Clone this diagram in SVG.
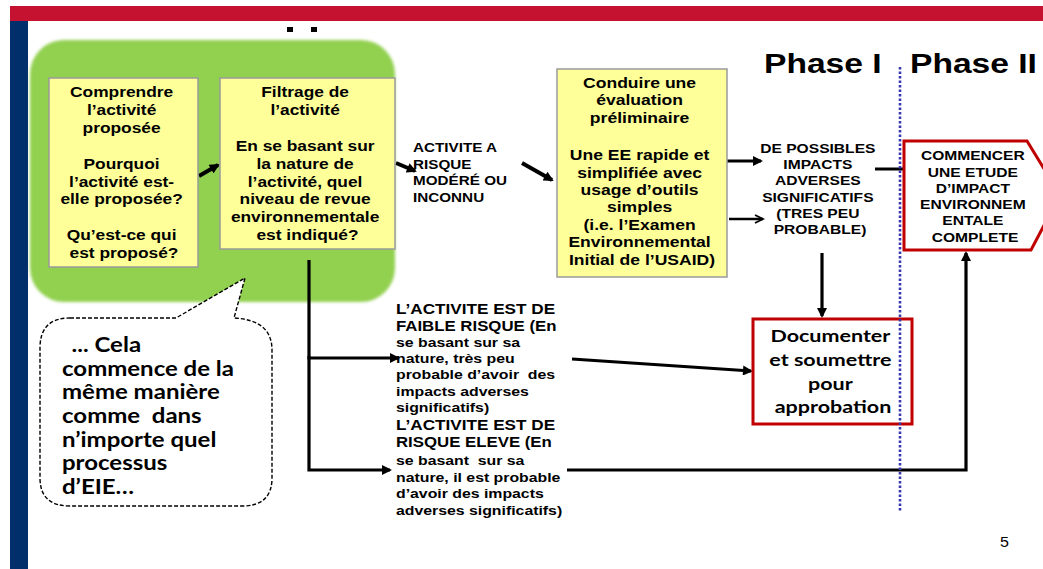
<svg xmlns="http://www.w3.org/2000/svg" width="1043" height="569" viewBox="0 0 1043 569">
<style>
.t{font-family:"Liberation Sans",Arial,sans-serif;font-weight:bold;fill:#000}
.c{text-anchor:middle}
.lato{font-family:Lato,"Open Sans",sans-serif;font-weight:bold;fill:#000}
.box{fill:#FFFF99;stroke:#9a9a9a;stroke-width:1.5}
.red{fill:#fff;stroke:#C00000;stroke-width:3}
.ln{fill:none;stroke:#000;stroke-width:3.2}
.thick{fill:none;stroke:#000;stroke-width:4}
</style>
<defs>
<marker id="ah" viewBox="0 0 10 10" refX="8" refY="5" markerWidth="12" markerHeight="10" markerUnits="userSpaceOnUse" orient="auto"><path d="M0,0 L10,5 L0,10 z" fill="#000"/></marker>
<marker id="ahopen" viewBox="0 0 10 10" refX="9" refY="5" markerWidth="11" markerHeight="10" markerUnits="userSpaceOnUse" orient="auto"><path d="M1,1 L9,5 L1,9" fill="none" stroke="#000" stroke-width="1.8"/></marker>
<filter id="soft" x="-5%" y="-5%" width="110%" height="110%"><feGaussianBlur stdDeviation="1.6"/></filter>
</defs>
<rect width="1043" height="569" fill="#fff"/>
<g id="frame">
<rect x="10" y="6" width="1033" height="15" fill="#C41230"/>
<rect x="10" y="21" width="18" height="548" fill="#002F6C"/>
<rect x="287" y="27" width="6" height="5" fill="#000"/>
<rect x="311" y="27" width="6" height="5" fill="#000"/>
</g>
<g id="green-zone">
<rect x="30" y="40" width="365" height="262" rx="34" fill="#92D050" filter="url(#soft)"/>
</g>
<g id="phases">
<text class="t" font-size="28" transform="translate(764,73) scale(1.2,1)" x="0" y="0">Phase I</text>
<text class="t" font-size="28" transform="translate(910,73) scale(1.2,1)" x="0" y="0">Phase II</text>
</g>
<g id="connectors">
<line class="thick" x1="199" y1="176" x2="218" y2="165" marker-end="url(#ah)"/>
<line class="thick" x1="396" y1="163" x2="415" y2="171" marker-end="url(#ah)"/>
<line class="thick" x1="522" y1="163" x2="552" y2="180" marker-end="url(#ah)"/>
<line class="ln" x1="727" y1="161" x2="761" y2="161" marker-end="url(#ah)"/>
<line fill="none" stroke="#000" stroke-width="2.4" x1="729" y1="219" x2="763" y2="219" marker-end="url(#ahopen)"/>
<line class="ln" x1="875" y1="169" x2="919" y2="169" marker-end="url(#ah)"/>
<line class="ln" x1="822" y1="253" x2="822" y2="316" marker-end="url(#ah)"/>
<path class="ln" d="M309,260 L309,358 L398,358" marker-end="url(#ah)"/>
<path class="ln" d="M309,356 L309,470 L390,470" marker-end="url(#ah)"/>
<line class="ln" x1="572" y1="359" x2="751" y2="371" marker-end="url(#ah)"/>
<path class="ln" d="M567,470 L966,470 L966,253" marker-end="url(#ah)"/>
</g>
<g id="comprendre">
<rect class="box" x="49" y="78" width="149" height="189"/>
<text class="t c" font-size="15.5" transform="translate(124,0) scale(1.12,1)">
<tspan x="0" y="97">Comprendre</tspan>
<tspan x="0" y="115">l’activité</tspan>
<tspan x="0" y="133">proposée</tspan>
<tspan x="0" y="169">Pourquoi</tspan>
<tspan x="0" y="187">l’activité est-</tspan>
<tspan x="0" y="204">elle proposée?</tspan>
<tspan x="0" y="240">Qu’est-ce qui</tspan>
<tspan x="0" y="258">est proposé?</tspan>
</text>
</g>
<g id="filtrage">
<rect class="box" x="220" y="78" width="175" height="171"/>
<text class="t c" font-size="15.5" transform="translate(307.5,0) scale(1.12,1)">
<tspan x="0" y="97">Filtrage de</tspan>
<tspan x="0" y="115">l’activité</tspan>
<tspan x="0" y="151">En se basant sur</tspan>
<tspan x="0" y="169">la nature de</tspan>
<tspan x="0" y="187">l’activité, quel</tspan>
<tspan x="0" y="204">niveau de revue</tspan>
<tspan x="0" y="222">environnementale</tspan>
<tspan x="0" y="240">est indiqué?</tspan>
</text>
</g>
<g id="risque-modere">
<text class="t" font-size="12.5" transform="translate(413,0) scale(1.22,1)">
<tspan x="0" y="152">ACTIVITE A</tspan>
<tspan x="0" y="169">RISQUE</tspan>
<tspan x="0" y="185">MODÉRÉ OU</tspan>
<tspan x="0" y="202">INCONNU</tspan>
</text>
</g>
<g id="evaluation">
<rect class="box" x="557" y="69" width="170" height="208"/>
<text class="t c" font-size="15" transform="translate(642,0) scale(1.17,1)">
<tspan x="0" y="88">Conduire une</tspan>
<tspan x="0" y="105">évaluation</tspan>
<tspan x="0" y="123">préliminaire</tspan>
<tspan x="0" y="160">Une EE rapide et</tspan>
<tspan x="0" y="178">simplifiée avec</tspan>
<tspan x="0" y="195">usage d’outils</tspan>
<tspan x="0" y="212">simples</tspan>
<tspan x="0" y="230">(i.e. l’Examen</tspan>
<tspan x="0" y="247">Environnemental</tspan>
<tspan x="0" y="265">Initial de l’USAID)</tspan>
</text>
</g>
<g id="impacts">
<text class="t c" font-size="13" transform="translate(820,0) scale(1.2,1)">
<tspan x="0" y="153">DE POSSIBLES</tspan>
<tspan x="0" y="169">IMPACTS</tspan>
<tspan x="0" y="185">ADVERSES</tspan>
<tspan x="0" y="202">SIGNIFICATIFS</tspan>
<tspan x="0" y="218">(TRES PEU</tspan>
<tspan x="0" y="234">PROBABLE)</tspan>
</text>
</g>
<g id="etude-complete">
<polygon class="red" points="904,141 1027,141 1060,195 1031,250 904,250"/>
<text class="t c" font-size="13" transform="translate(975,0) scale(1.2,1)">
<tspan x="0" y="160">COMMENCER</tspan>
<tspan x="0" y="177">UNE ETUDE</tspan>
<tspan x="0" y="193">D’IMPACT</tspan>
<tspan x="0" y="209">ENVIRONNEM</tspan>
<tspan x="0" y="225">ENTALE</tspan>
<tspan x="0" y="242">COMPLETE</tspan>
</text>
</g>
<g id="documenter">
<rect class="red" x="753" y="319" width="159" height="105"/>
<text class="lato c" font-size="16.8" transform="translate(833,0) scale(1.28,1)">
<tspan x="0" y="342">Documenter</tspan>
<tspan x="0" y="366">et soumettre</tspan>
<tspan x="0" y="390">pour</tspan>
<tspan x="0" y="413">approbation</tspan>
</text>
</g>
<g id="faible-risque">
<text class="t" font-size="13.2" transform="translate(396,0) scale(1.2,1)">
<tspan x="0" y="314" font-size="14.3">L’ACTIVITE EST DE</tspan>
<tspan x="0" y="331" font-size="14">FAIBLE RISQUE (En</tspan>
<tspan x="0" y="347">se basant sur sa</tspan>
<tspan x="0" y="363">nature, très peu</tspan>
<tspan x="0" y="379">probable d’avoir&#160; des</tspan>
<tspan x="0" y="396">impacts adverses</tspan>
<tspan x="0" y="412">significatifs)</tspan>
</text>
</g>
<g id="risque-eleve">
<text class="t" font-size="13.2" transform="translate(396,0) scale(1.2,1)">
<tspan x="0" y="430" font-size="14.3">L’ACTIVITE EST DE</tspan>
<tspan x="0" y="447" font-size="14">RISQUE ELEVE (En</tspan>
<tspan x="0" y="465">se basant&#160; sur sa</tspan>
<tspan x="0" y="482">nature, il est probable</tspan>
<tspan x="0" y="498">d’avoir des impacts</tspan>
<tspan x="0" y="515">adverses significatifs)</tspan>
</text>
</g>
<g id="callout">
<path d="M70,318 L176,318 L245,278 L234,318 Q272,320 272,350 L272,478 Q272,506 242,506 L70,506 Q40,506 40,478 L40,348 Q40,318 70,318 Z" fill="#fff" stroke="#000" stroke-width="1.4" stroke-dasharray="4,2"/>
<text class="lato" font-size="20" font-weight="900" transform="translate(62,0) scale(1.2,1)">
<tspan x="8" y="352">... Cela</tspan>
<tspan x="0" y="376">commence de la</tspan>
<tspan x="0" y="399">même manière</tspan>
<tspan x="0" y="423">comme&#160; dans</tspan>
<tspan x="0" y="447">n’importe quel</tspan>
<tspan x="0" y="470">processus</tspan>
<tspan x="0" y="494">d’EIE…</tspan>
</text>
</g>
<g id="phase-divider">
<line x1="900" y1="67" x2="900" y2="512" stroke="#3838B0" stroke-width="2.6" stroke-dasharray="2.5,2"/>
</g>
<g id="page-number">
<text font-family="Liberation Sans, Arial, sans-serif" font-size="14" transform="translate(1000,547) scale(1.15,1)" x="0" y="0">5</text>
</g>
</svg>
